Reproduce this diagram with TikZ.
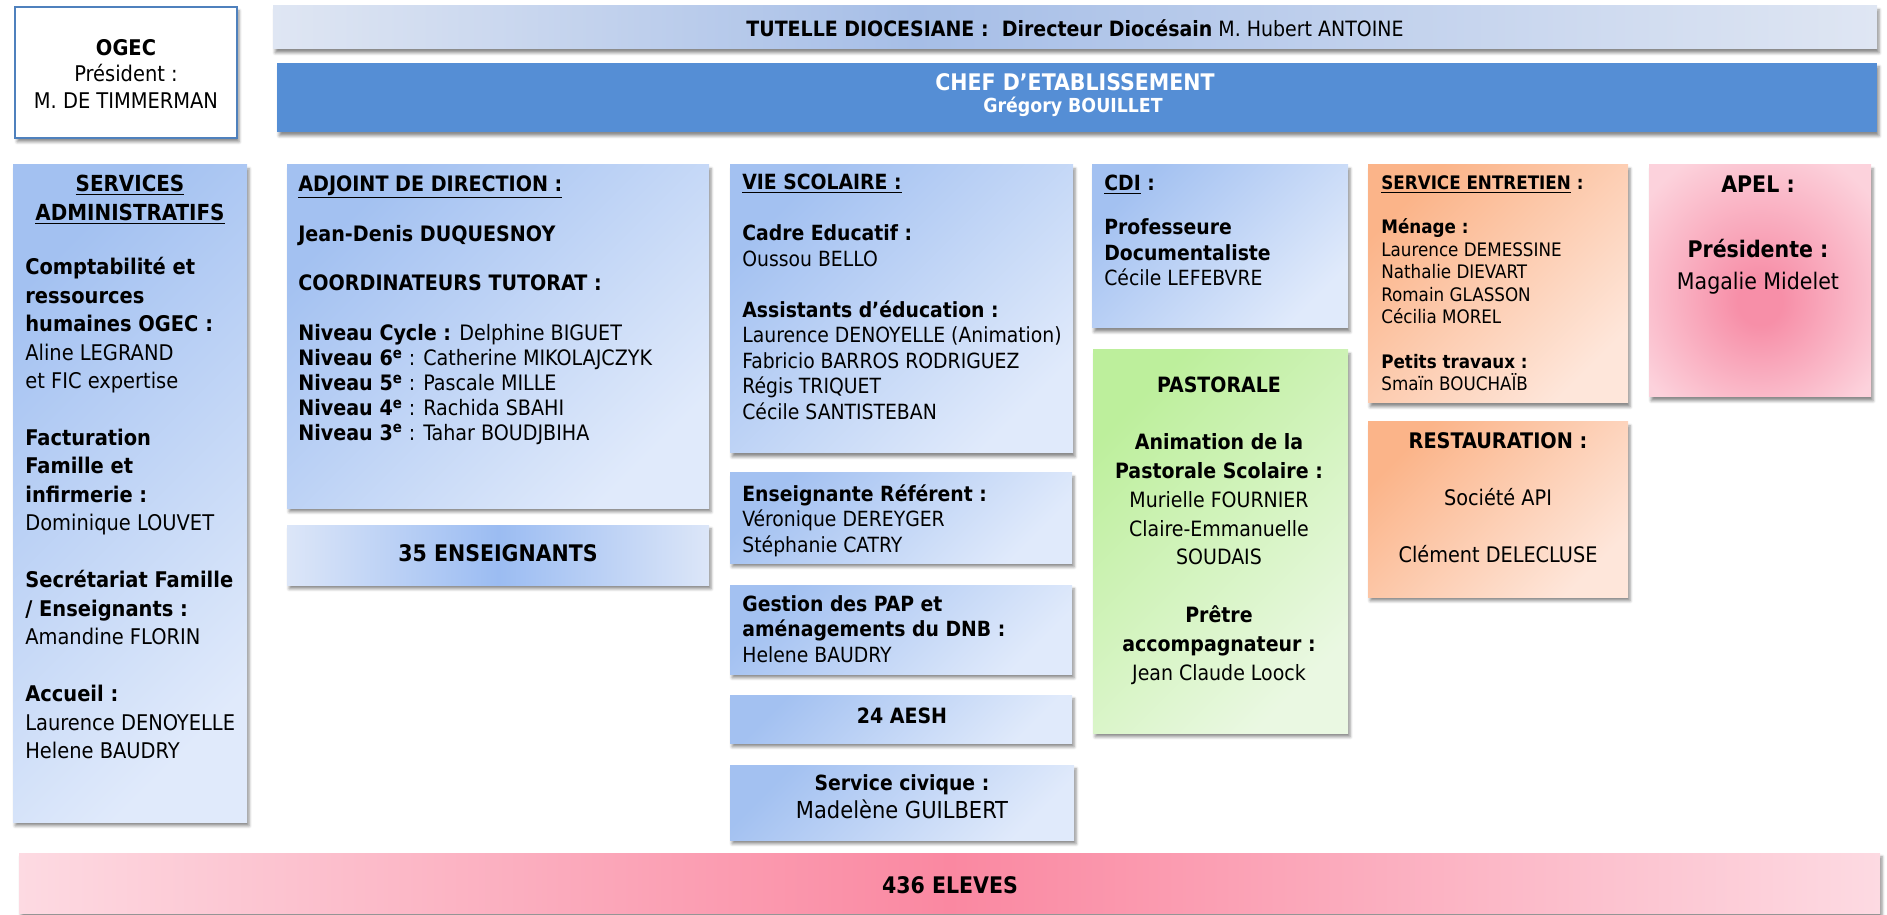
\documentclass[tikz,border=0pt]{standalone}
\usepackage{fontspec}
\setmainfont{DejaVu Sans Condensed}
\usetikzlibrary{fit,shadows.blur}

\definecolor{blueA}{HTML}{A3C1F1}
\definecolor{blueB}{HTML}{E0EAFB}
\definecolor{blueM}{HTML}{9BBCF2}
\definecolor{blueL}{HTML}{DCE6F8}
\definecolor{tutA}{HTML}{DFE6F3}
\definecolor{tutM}{HTML}{A6BEE7}
\definecolor{chefblue}{HTML}{558ED5}
\definecolor{ogecline}{HTML}{4F81BD}
\definecolor{orA}{HTML}{FBB489}
\definecolor{orB}{HTML}{FEE6DA}
\definecolor{grA}{HTML}{BDEF9C}
\definecolor{grB}{HTML}{EAF8E2}
\definecolor{pkA}{HTML}{F78FA8}
\definecolor{pkB}{HTML}{FCD2DC}
\definecolor{elA}{HTML}{FDDAE2}
\definecolor{elM}{HTML}{FA88A1}

\pgfdeclarehorizontalshading{tutshade}{100bp}{color(0bp)=(tutA);color(25bp)=(tutA);color(45bp)=(tutM);color(75bp)=(tutA);color(100bp)=(tutA)}
\pgfdeclareradialshading{apelglow}{\pgfpoint{0bp}{-5bp}}{color(0bp)=(pkA);color(5bp)=(pkA);color(32bp)=(pkB);color(50bp)=(pkB)}

\tikzstyle{drop}=[blur shadow={shadow xshift=1.2pt,shadow yshift=-2.2pt,shadow blur radius=1.6pt,shadow opacity=45}]
\tikzstyle{panel}=[inner sep=0pt,drop]
\tikzstyle{bluebox}=[panel,top color=blueA,bottom color=blueB,shading angle=45]
\tikzstyle{orangebox}=[panel,top color=orA,bottom color=orB,shading angle=45]
\tikzstyle{greenbox}=[panel,top color=grA,bottom color=grB,shading angle=45]
\tikzstyle{txt}=[inner sep=0pt,anchor=north west,align=left,font=\fontsize{11.9}{14.5}\selectfont]
\tikzstyle{ctxt}=[inner sep=0pt,anchor=north,align=center,font=\fontsize{11.9}{14.5}\selectfont]

\begin{document}
\begin{tikzpicture}[x=0.02cm,y=-0.02cm]
\useasboundingbox (0,0) rectangle (1887,915);

% top row
\node[panel,fill=white,draw=ogecline,line width=0.6pt,fit={(15,7) (237,138)}] (ogec) {};
\node[panel,shade,shading=tutshade,fit={(273,6) (1877,49)}] (tutelle) {};
\node[panel,fill=chefblue,fit={(277,63) (1877,132)}] (chef) {};
\node[ctxt,font=\fontsize{12.3}{15}\selectfont] at (126,39) {\textbf{OGEC}\\Président :\\M. DE TIMMERMAN};
\node[font=\fontsize{12}{14}\selectfont] at (1075,28) {\textbf{TUTELLE DIOCESIANE :\ \ Directeur Diocésain} M. Hubert ANTOINE};
\node[text=white,font=\bfseries\fontsize{13}{15}\selectfont] at (1075,82) {CHEF D’ETABLISSEMENT};
\node[text=white,font=\bfseries\fontsize{11}{13}\selectfont] at (1073,107) {Grégory BOUILLET};

% boxes
\node[bluebox,fit={(13,165) (247,822)}] (admin) {};
\node[bluebox,fit={(287,165) (709,508)}] (adjoint) {};
\node[panel,left color=blueL,right color=blueL,middle color=blueM,fit={(287,525) (709,585)}] (profs) {};
\node[bluebox,fit={(730,165) (1073,453)}] (vie) {};
\node[bluebox,fit={(730,473) (1072,563)}] (referent) {};
\node[bluebox,fit={(730,585) (1072,674)}] (pap) {};
\node[bluebox,fit={(730,695) (1072,743)}] (aesh) {};
\node[bluebox,fit={(730,765) (1074,840)}] (civique) {};
\node[bluebox,fit={(1092,165) (1348,328)}] (cdi) {};
\node[greenbox,fit={(1093,350) (1348,733)}] (pasto) {};
\node[orangebox,fit={(1368,165) (1628,403)}] (entretien) {};
\node[orangebox,fit={(1368,422) (1628,597)}] (restau) {};
\node[panel,shade,shading=apelglow,fit={(1649,165) (1871,397)}] (apel) {};
\node[panel,left color=elA,right color=elA,middle color=elM,fit={(19,853) (1880,913)}] (eleves) {};

% texts
\node[ctxt,font=\bfseries\fontsize{12.6}{16.4}\selectfont] at (130,175) {\underline{SERVICES}\\\underline{ADMINISTRATIFS}};
\node[txt,font=\fontsize{12.3}{16.2}\selectfont] at (25,257) {\textbf{Comptabilité et}\\\textbf{ressources}\\\textbf{humaines OGEC :}\\Aline LEGRAND\\et FIC expertise\\[16.2pt]
  \textbf{Facturation}\\\textbf{Famille et}\\\textbf{infirmerie :}\\Dominique LOUVET\\[16.2pt]
  \textbf{Secrétariat Famille}\\\textbf{/ Enseignants :}\\Amandine FLORIN\\[16.2pt]
  \textbf{Accueil :}\\Laurence DENOYELLE\\Helene BAUDRY};

\node[txt,font=\fontsize{12.1}{14.2}\selectfont] at (298,175) {\textbf{\underline{ADJOINT DE DIRECTION :}}\\[14.2pt]
  \textbf{Jean-Denis DUQUESNOY}\\[14.2pt]
  \textbf{COORDINATEURS TUTORAT :}\\[14.2pt]
  \textbf{Niveau Cycle :} Delphine BIGUET\\
  \textbf{Niveau 6\textsuperscript{e}} : Catherine MIKOLAJCZYK\\
  \textbf{Niveau 5\textsuperscript{e}} : Pascale MILLE\\
  \textbf{Niveau 4\textsuperscript{e}} : Rachida SBAHI\\
  \textbf{Niveau 3\textsuperscript{e}} : Tahar BOUDJBIHA};
\node[font=\bfseries\fontsize{13}{15}\selectfont] at (498,553) {35 ENSEIGNANTS};

\node[txt] at (742,174) {\textbf{\underline{VIE SCOLAIRE :}}\\[14.5pt]
  \textbf{Cadre Educatif :}\\Oussou BELLO\\[14.5pt]
  \textbf{Assistants d’éducation :}\\Laurence DENOYELLE (Animation)\\Fabricio BARROS RODRIGUEZ\\Régis TRIQUET\\Cécile SANTISTEBAN};
\node[txt] at (742,484) {\textbf{Enseignante Référent :}\\Véronique DEREYGER\\Stéphanie CATRY};
\node[txt] at (742,595) {\textbf{Gestion des PAP et}\\\textbf{aménagements du DNB :}\\Helene BAUDRY};
\node[font=\bfseries\fontsize{12}{14}\selectfont] at (902,716) {24 AESH};
\node[ctxt,font=\fontsize{11.9}{15.9}\selectfont] at (902,774) {\textbf{Service civique :}\\{\fontsize{13.3}{15.9}\selectfont Madelène GUILBERT}};

\node[txt] at (1104,175) {\textbf{\underline{CDI} :}\\[10.5pt]
  \textbf{Professeure}\\\textbf{Documentaliste}\\Cécile LEFEBVRE};
\node[ctxt,font=\fontsize{12}{16.4}\selectfont] at (1219,376) {\textbf{PASTORALE}\\[16.4pt]
  \textbf{Animation de la}\\\textbf{Pastorale Scolaire :}\\Murielle FOURNIER\\Claire-Emmanuelle\\SOUDAIS\\[16.4pt]
  \textbf{Prêtre}\\\textbf{accompagnateur :}\\Jean Claude Loock};

\node[txt,font=\fontsize{10.6}{12.75}\selectfont] at (1381,175) {\textbf{\underline{SERVICE ENTRETIEN} :}\\[12.75pt]
  \textbf{Ménage :}\\Laurence DEMESSINE\\Nathalie DIEVART\\Romain GLASSON\\Cécilia MOREL\\[12.75pt]
  \textbf{Petits travaux :}\\Smaïn BOUCHAÏB};
\node[ctxt,font=\fontsize{12.2}{16.3}\selectfont] at (1498,432) {\textbf{RESTAURATION :}\\[16.3pt]Société API\\[16.3pt]Clément DELECLUSE};
\node[ctxt,font=\fontsize{13}{18.4}\selectfont] at (1758,176) {\textbf{APEL :}\\[18.4pt]\textbf{Présidente :}\\Magalie Midelet};

\node[font=\bfseries\fontsize{13}{15}\selectfont] at (950,885) {436 ELEVES};
\end{tikzpicture}
\end{document}
